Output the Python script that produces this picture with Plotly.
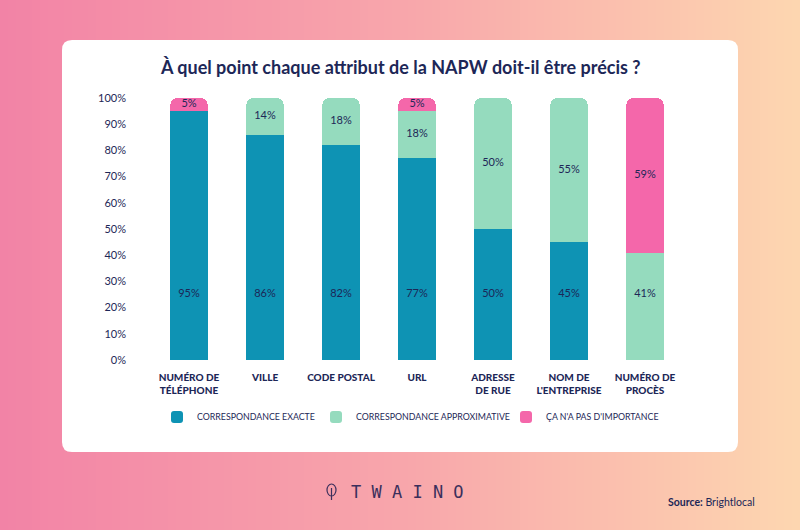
import plotly.graph_objects as go

categories = ["NUMÉRO DE<br>TÉLÉPHONE", "VILLE", "CODE POSTAL", "URL",
              "ADRESSE<br>DE RUE", "NOM DE<br>L'ENTREPRISE", "NUMÉRO DE<br>PROCÈS"]
exact = [95, 86, 82, 77, 50, 45, 0]
approx = [0, 14, 18, 18, 50, 55, 41]
notimp = [5, 0, 0, 5, 0, 0, 59]
series_names = ["CORRESPONDANCE EXACTE", "CORRESPONDANCE APPROXIMATIVE", "ÇA N'A PAS D'IMPORTANCE"]
ytick_vals = [0, 10, 20, 30, 40, 50, 60, 70, 80, 90, 100]
ytick_text = ["0%", "10%", "20%", "30%", "40%", "50%", "60%", "70%", "80%", "90%", "100%"]

NAVY = "#1d2757"
C_EXACT = "#0e93b4"
C_APPROX = "#95dbbe"
C_PINK = "#f467aa"
FONT_C = "Lato, Roboto, sans-serif"

W, H = 800, 530
def px(x): return x / W
def py(y): return 1 - y / H

fig = go.Figure()

series = [(series_names[0], exact, C_EXACT, "legend"),
          (series_names[1], approx, C_APPROX, "legend2"),
          (series_names[2], notimp, C_PINK, "legend3")]
for name, vals, col, lg in series:
    fig.add_trace(go.Bar(
        x=categories, y=vals, name=name, marker_color=col, marker_line_width=0,
        textposition="none", legend=lg, hoverinfo="skip",
    ))

# value labels: the lowest segment of each bar is labelled at a fixed height,
# the upper segments at their centre
lab_x, lab_y, lab_t = [], [], []
for i, cat in enumerate(categories):
    base = 0
    first = True
    for _, vals, _, _ in series:
        v = vals[i]
        if v == 0:
            continue
        lab_x.append(cat)
        lab_y.append(25 if first else base + v / 2)
        lab_t.append(f"{v}%")
        base += v
        first = False
fig.add_trace(go.Scatter(
    x=lab_x, y=lab_y, mode="text", text=lab_t,
    textfont=dict(family=FONT_C, size=11, color=NAVY), showlegend=False, hoverinfo="skip",
))

shapes = []
# background gradient strips
stops = [(0.0, (242, 131, 166)), (0.5, (248, 166, 171)), (1.0, (253, 214, 176))]
def grad(t):
    for (t0, c0), (t1, c1) in zip(stops[:-1], stops[1:]):
        if t0 <= t <= t1:
            f = (t - t0) / (t1 - t0)
            return "rgb(%d,%d,%d)" % tuple(round(a + (b - a) * f) for a, b in zip(c0, c1))
    return "rgb(%d,%d,%d)" % stops[-1][1]
N = 100
for i in range(N):
    shapes.append(dict(type="rect", xref="paper", yref="paper", layer="below",
                       x0=i / N, x1=(i + 1) / N + 0.002, y0=0, y1=1,
                       fillcolor=grad((i + 0.5) / N), line_width=0))
# white card with rounded corners
x0, x1, y0, y1, r = 62, 738, 40, 452, 10
path = (f"M {px(x0 + r)} {py(y0)} L {px(x1 - r)} {py(y0)} Q {px(x1)} {py(y0)} {px(x1)} {py(y0 + r)} "
        f"L {px(x1)} {py(y1 - r)} Q {px(x1)} {py(y1)} {px(x1 - r)} {py(y1)} "
        f"L {px(x0 + r)} {py(y1)} Q {px(x0)} {py(y1)} {px(x0)} {py(y1 - r)} "
        f"L {px(x0)} {py(y0 + r)} Q {px(x0)} {py(y0)} {px(x0 + r)} {py(y0)} Z")
shapes.append(dict(type="path", path=path, xref="paper", yref="paper", layer="below",
                   fillcolor="white", line_width=0))
# leaf logo
LOGO = "#3b2f5c"
shapes.append(dict(type="circle", xref="paper", yref="paper", x0=px(327), x1=px(336),
                   y0=py(496), y1=py(484), line=dict(color=LOGO, width=1.2)))
shapes.append(dict(type="line", xref="paper", yref="paper", x0=px(331.5), x1=px(331.5),
                   y0=py(488), y1=py(500), line=dict(color=LOGO, width=1.2)))

annotations = [
    dict(text="<b>À quel point chaque attribut de la NAPW doit-il être précis ?</b>",
         x=0.5, y=py(67), xref="paper", yref="paper", showarrow=False, yanchor="middle",
         font=dict(family=FONT_C, size=18, color=NAVY)),
    dict(text="T W A I N O", x=px(407), y=py(492), xref="paper", yref="paper", yanchor="middle",
         showarrow=False, font=dict(family="DejaVu Sans Mono, monospace", size=17, color=LOGO)),
    dict(text="<b>Source:</b> Brightlocal", x=px(757), y=py(502), xref="paper", yref="paper",
         xanchor="right", yanchor="middle", showarrow=False,
         font=dict(family=FONT_C, size=10.5, color=NAVY)),
]

leg_common = dict(orientation="h", yanchor="middle", xanchor="left", y=py(417),
                  bgcolor="rgba(0,0,0,0)", font=dict(family=FONT_C, size=8.8, color=NAVY),
                  itemclick=False, itemdoubleclick=False)

fig.update_layout(
    width=W, height=H, autosize=False,
    margin=dict(l=0, r=0, t=0, b=0, pad=0, autoexpand=False),
    paper_bgcolor="white", plot_bgcolor="rgba(0,0,0,0)",
    barmode="stack", bargap=0.51, barcornerradius=7,
    shapes=shapes, annotations=annotations,
    legend=dict(x=px(157), **leg_common),
    legend2=dict(x=px(316), **leg_common),
    legend3=dict(x=px(506), **leg_common),
    xaxis=dict(domain=[px(151), px(683)], showgrid=False, zeroline=False, showline=False,
               ticks="", ticklabelstandoff=10, automargin=False,
               tickfont=dict(family=FONT_C, size=10, color=NAVY, weight=900)),
    yaxis=dict(domain=[py(360), py(98)], range=[0, 100], showgrid=False, zeroline=False,
               showline=False, tickvals=ytick_vals, ticktext=ytick_text, ticks="",
               automargin=False,
               ticklabelstandoff=24, tickfont=dict(family=FONT_C, size=11, color=NAVY)),
)

fig.write_html("out.html", config={"displayModeBar": False},
               post_script="document.body.style.margin='0';document.body.style.overflow='hidden';")
